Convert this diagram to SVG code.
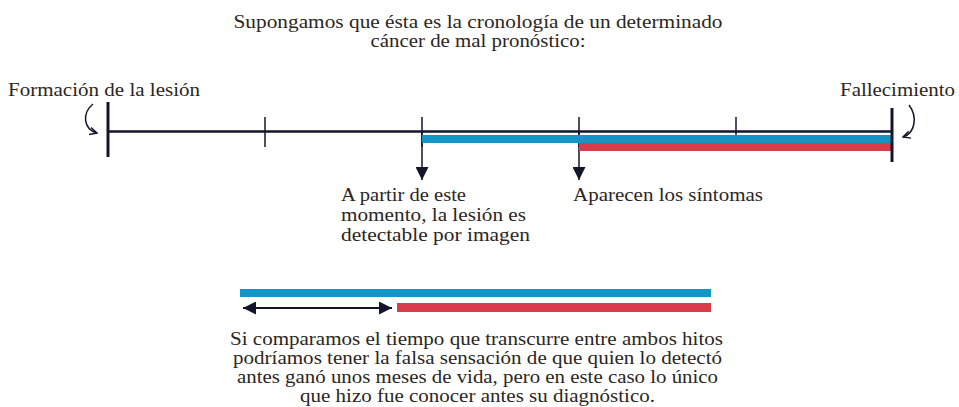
<svg xmlns="http://www.w3.org/2000/svg" width="959" height="407" viewBox="0 0 959 407">
<defs>
<style>
.t{font-family:"Liberation Serif","Times New Roman",serif;font-size:19.5px;fill:#2b2622}
.ln{stroke:#13152b;fill:none}
.blue{fill:#1396c6}
.red{fill:#d93d4a}
</style>
<marker id="chev" viewBox="0 0 10 10" refX="9" refY="5" markerWidth="9" markerHeight="9" markerUnits="userSpaceOnUse" orient="auto">
<path d="M1 1 L9 5 L1 9" fill="none" stroke="#13152b" stroke-width="1.6"/>
</marker>
<marker id="dtri" viewBox="0 0 10 10" refX="10" refY="5" markerWidth="13" markerHeight="13" markerUnits="userSpaceOnUse" orient="auto-start-reverse">
<path d="M0 0 L10 5 L0 10 Z" fill="#13152b"/>
</marker>
</defs>

<g id="title">
<text class="t" x="478" y="28" text-anchor="middle" textLength="489" lengthAdjust="spacingAndGlyphs">Supongamos que ésta es la cronología de un determinado</text>
<text class="t" x="478" y="47" text-anchor="middle" textLength="215" lengthAdjust="spacingAndGlyphs">cáncer de mal pronóstico:</text>
</g>

<g id="node-formacion">
<text class="t" x="8" y="96" textLength="192" lengthAdjust="spacingAndGlyphs">Formación de la lesión</text>
</g>
<g id="node-fallecimiento">
<text class="t" x="840" y="96" textLength="115" lengthAdjust="spacingAndGlyphs">Fallecimiento</text>
</g>

<g id="timeline">
<line class="ln" x1="108" y1="131.5" x2="892" y2="131.5" stroke-width="2.5"/>
<line class="ln" x1="108" y1="102" x2="108" y2="157" stroke-width="3"/>
<line class="ln" x1="265" y1="117" x2="265" y2="147" stroke-width="1.5"/>
<line class="ln" x1="422" y1="117" x2="422" y2="147" stroke-width="1.5"/>
<line class="ln" x1="579" y1="117" x2="579" y2="147" stroke-width="1.5"/>
<line class="ln" x1="736" y1="117" x2="736" y2="147" stroke-width="1.5"/>
</g>

<g id="connectors">
<line class="ln" x1="422" y1="132" x2="422" y2="180" stroke-width="1.5" marker-end="url(#dtri)"/>
<line class="ln" x1="579" y1="132" x2="579" y2="180" stroke-width="1.5" marker-end="url(#dtri)"/>
<path class="ln" d="M93 104 C82 113 83 129 97 133" stroke-width="1.5" marker-end="url(#chev)"/>
<path class="ln" d="M909 105 C918 117 915 133 903 137" stroke-width="1.5" marker-end="url(#chev)"/>
</g>

<g id="bars">
<rect class="blue" x="422" y="135" width="470" height="8"/>
<rect class="red" x="579" y="143" width="313" height="8"/>
<line class="ln" x1="892" y1="108" x2="892" y2="162" stroke-width="3"/>
</g>

<g id="node-detectable">
<text class="t" x="341" y="201" textLength="125" lengthAdjust="spacingAndGlyphs">A partir de este</text>
<text class="t" x="341" y="221" textLength="185" lengthAdjust="spacingAndGlyphs">momento, la lesión es</text>
<text class="t" x="341" y="241" textLength="189" lengthAdjust="spacingAndGlyphs">detectable por imagen</text>
</g>
<g id="node-sintomas">
<text class="t" x="573" y="201" textLength="190" lengthAdjust="spacingAndGlyphs">Aparecen los síntomas</text>
</g>

<g id="comparison">
<rect class="blue" x="240" y="289" width="471" height="8"/>
<rect class="red" x="397" y="303" width="314" height="9"/>
<line class="ln" x1="243" y1="308" x2="392" y2="308" stroke-width="2" marker-start="url(#dtri)" marker-end="url(#dtri)"/>
</g>

<g id="caption">
<text class="t" x="476.5" y="345" text-anchor="middle" textLength="493" lengthAdjust="spacingAndGlyphs">Si comparamos el tiempo que transcurre entre ambos hitos</text>
<text class="t" x="477.5" y="364" text-anchor="middle" textLength="489" lengthAdjust="spacingAndGlyphs">podríamos tener la falsa sensación de que quien lo detectó</text>
<text class="t" x="477.5" y="383" text-anchor="middle" textLength="481" lengthAdjust="spacingAndGlyphs">antes ganó unos meses de vida, pero en este caso lo único</text>
<text class="t" x="477.5" y="402" text-anchor="middle" textLength="355" lengthAdjust="spacingAndGlyphs">que hizo fue conocer antes su diagnóstico.</text>
</g>
</svg>
